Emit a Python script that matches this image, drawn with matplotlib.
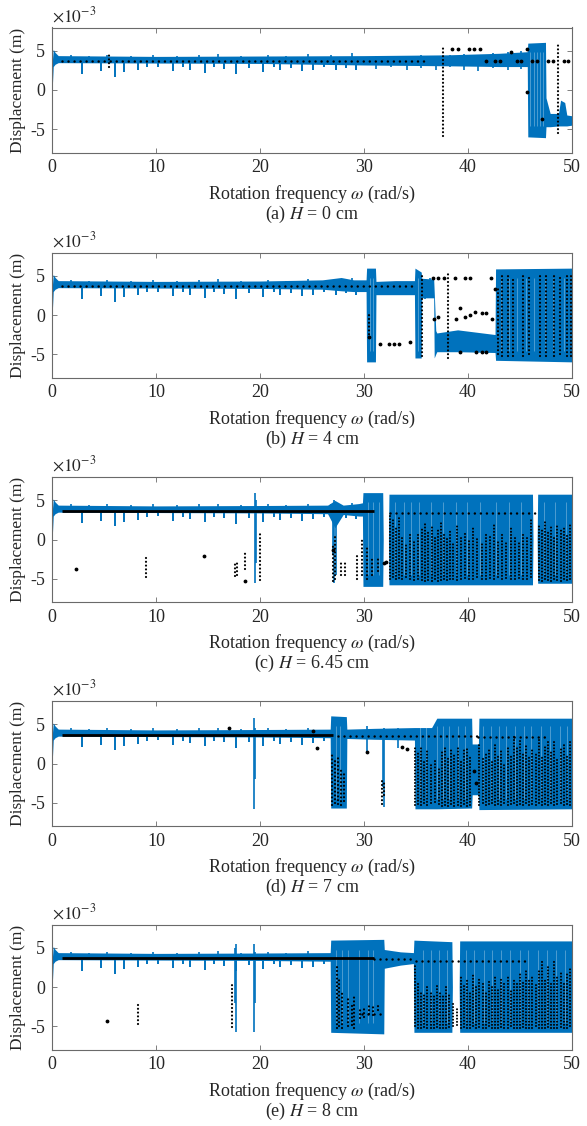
import matplotlib
matplotlib.use("Agg")
import matplotlib.pyplot as plt

plt.rcParams['font.family'] = ['Liberation Serif', 'DejaVu Serif']
plt.rcParams['mathtext.fontset'] = 'stix'
plt.rcParams['axes.unicode_minus'] = False
plt.rcParams['font.size'] = 12.5

BLUE = '#0072BD'
TXT = '#262626'
EDGE = '#6a6a6a'

xticks = [0, 10, 20, 30, 40, 50]
yticks = [-5, 0, 5]
captions = ['(a) $H$ = 0 cm', '(b) $H$ = 4 cm', '(c) $H$ = 6.45 cm',
            '(d) $H$ = 7 cm', '(e) $H$ = 8 cm']

## dips of the periodic branch (same for all H), displacement in 1e-3 m
dip_w = [2.9, 4.7, 6.1, 6.9, 8.3, 9.1, 10.2, 11.6, 12.6, 13.3, 14.7, 15.6, 16.5,
         17.7, 18.9, 20.3, 21.3, 21.9, 23.0, 24.0, 25.1, 26.2, 27.3, 28.3, 29.2]
dip_y = [2.1, 2.4, 1.7, 2.3, 2.5, 2.9, 3.0, 2.4, 2.9, 2.6, 2.2, 2.9, 2.7,
         2.0, 2.8, 2.3, 2.9, 2.5, 2.8, 2.4, 2.6, 2.9, 2.5, 2.8, 2.6]
## small upward peaks on the periodic branch
peak_w = [1.8, 3.6, 5.3, 7.6, 9.7, 12.0, 14.1, 16.0, 18.2, 20.8, 22.5, 24.6, 26.8, 28.8]
peak_y = [4.5, 4.4, 4.5, 4.4, 4.5, 4.4, 4.5, 4.6, 4.4, 4.5, 4.4, 4.6, 4.5, 4.7]

## ---- (a) H = 0 cm
a_env_w  = [0, 0.05, 0.12, 0.3, 0.6, 10, 20, 30, 38, 43, 45.7, 45.75, 47.45, 47.5, 47.9, 48.7, 48.9, 49.3, 49.5, 50]
a_env_lo = [0, 1.0, 3.0, 3.3, 3.5, 3.45, 3.4, 3.2, 3.1, 3.0, 3.0, -6.0, -6.1, -4.7, -4.7, -4.6, -4.6, -4.6, -4.6, -4.5]
a_env_hi = [0, 4.0, 5.2, 4.8, 4.4, 4.3, 4.35, 4.4, 4.5, 4.7, 4.9, 6.0, 6.1, -1.0, -3.0, -3.0, -1.3, -1.6, -3.2, -3.3]
a_spk_w  = [31.2, 32.6, 34.1, 35.5, 36.9, 38.3, 39.6, 41.0, 42.4, 43.8, 45.1]
a_spk_lo = [2.7, 2.9, 2.6, 2.8, 2.5, 2.9, 2.6, 2.4, 2.8, 2.6, 2.7]
a_spk_hi = [4.3, 4.4, 4.3, 4.5, 4.4, 4.5, 4.6, 4.5, 4.7, 4.8, 5.0]
a_stripes = [46.0, 46.35, 46.65, 46.9, 47.2]
a_hd = []
a_hs = [(1.0, 36.2, 3.7)]
a_col_w  = [5.5, 37.6, 48.7]
a_col_lo = [3.0, -5.9, -5.5]
a_col_hi = [4.5, 5.7, 5.9]
a_pt_w = [38.5, 39.0, 40.05, 40.6, 41.2, 41.7, 42.6, 43.1, 44.15, 44.7, 45.05, 45.7, 45.7, 46.2, 46.6, 47.1, 47.7, 48.2, 49.2, 49.6]
a_pt_y = [5.2, 5.2, 5.2, 5.2, 5.2, 3.7, 3.7, 3.7, 4.8, 3.7, 3.7, 5.2, -0.3, 3.7, 3.7, -3.7, 3.7, 3.7, 3.7, 3.7]

## ---- (b) H = 4 cm
b_env_w  = [0, 0.05, 0.12, 0.3, 0.6, 10, 20, 26, 27.8, 29, 30.2, 30.25, 31.1, 31.15, 33, 34.85, 34.9, 35.5, 35.55, 36.7, 36.75, 36.9, 37.0, 39.0, 42.6, 42.65, 50]
b_env_lo = [0, 1.0, 3.0, 3.3, 3.5, 3.45, 3.4, 3.3, 3.1, 3.0, 3.0, -6.0, -6.0, 2.6, 2.6, 2.6, -5.5, -5.5, 2.2, 2.2, -5.5, -5.0, -4.7, -4.7, -4.8, -5.8, -6.0]
b_env_hi = [0, 4.0, 5.2, 4.8, 4.4, 4.3, 4.35, 4.5, 4.8, 4.5, 4.5, 6.0, 6.0, 4.3, 4.4, 4.4, 6.0, 5.5, 4.7, 4.6, 3.0, -2.0, -2.3, -1.9, -2.5, 5.9, 6.0]
b_spk_w  = [35.9, 36.3]
b_spk_lo = [2.0, 2.3]
b_spk_hi = [4.6, 4.7]
b_stripes = [30.6, 30.9, 35.2, 43.2, 43.9, 44.7, 45.6, 46.3, 47.4, 48.2, 49.2]
b_hd = []
b_hs = [(1.0, 35.0, 3.7)]
b_col_w  = [30.5, 35.6, 38.1, 42.9, 43.3, 43.8, 44.3, 45.3, 45.9, 46.9, 47.5, 48.3, 48.8, 49.5, 49.9]
b_col_lo = [-3.0, -5.3, -5.5, -5.0, -5.3, -5.2, -5.3, -5.3, -5.0, -5.3, -5.2, -5.3, -5.0, -5.3, -5.2]
b_col_hi = [0.0, 5.1, 5.5, 3.5, 5.3, 5.0, 4.8, 5.3, 5.0, 5.3, 5.2, 5.3, 5.0, 5.3, 5.3]
b_pt_w = [31.5, 32.4, 32.9, 33.4, 34.4, 36.6, 37.1, 37.7, 38.75, 39.7, 40.2, 42.2, 36.7, 37.1, 38.8, 39.2,
          39.7, 40.2, 40.7, 41.3, 41.7, 42.3, 39.2, 40.8, 41.3, 41.7, 42.6, 30.5]
b_pt_y = [-3.7, -3.65, -3.65, -3.65, -3.5, 4.8, 4.8, 4.8, 4.8, 4.8, 4.8, 4.8, -0.5, -0.3, -0.5, 0.9,
          -0.3, 0.0, 0.4, 0.2, 0.2, -0.5, -4.7, -4.7, -4.7, -4.7, 3.3, -2.8]

## ---- (c) H = 6.45 cm
c_env_w  = [0, 0.05, 0.12, 0.3, 0.6, 10, 20, 26.5, 27.2, 28, 29.5, 29.85, 29.9, 31.8, 31.85, 32.35, 32.4, 46.2, 46.25, 46.65, 46.7, 50]
c_env_lo = [0, 1.0, 3.0, 3.3, 3.5, 3.45, 3.4, 3.3, 1.5, 3.2, 3.0, 3.0, -6.0, -6.0, 0, 0, -5.8, -5.8, 0, 0, -5.6, -5.6]
c_env_hi = [0, 4.0, 5.2, 4.8, 4.4, 4.3, 4.35, 4.4, 5.0, 4.4, 4.6, 4.7, 6.0, 6.0, 0, 0, 5.8, 5.8, 0, 0, 5.8, 5.8]
c_spk_w  = [19.5, 19.6, 27.0, 27.15, 27.3]
c_spk_lo = [-5.6, -3.0, -2.0, -5.6, -4.5]
c_spk_hi = [5.9, 5.0, 4.5, 5.0, 4.8]
c_stripes = [30.4, 30.9, 31.4, 33.0, 33.8, 34.5, 35.3, 36.4, 37.6, 38.8, 39.9, 41.2, 42.7, 43.9, 45.1, 47.3, 48.4, 49.4]
c_hd = [(1.0, 31.0, 3.7)]
c_hs = [(32.5, 46.5, 3.4)]
c_col_w  = [9.0, 17.6, 17.8, 18.6, 19.96, 27.0, 27.2, 27.8, 28.2, 29.3, 29.8, 30.3, 30.8, 31.3]
c_col_lo = [-4.75, -4.7, -4.5, -3.8, -5.2, -5.3, -5.0, -4.5, -4.5, -5.0, -4.5, -5.0, -4.5, -4.0]
c_col_hi = [-2.3, -2.9, -3.0, -1.5, 1.0, -0.5, 0.5, -3.0, -3.0, -2.0, 0.0, -1.0, -2.5, -2.5]
c_pt_w = [2.34, 14.6, 18.6, 27.0, 31.9, 32.1]
c_pt_y = [-3.8, -2.1, -5.3, -1.3, -3.0, -2.9]
c_cloud_w  = [32.5, 32.8, 33.1, 33.4, 33.7, 34.0, 34.4, 34.8, 35.2, 35.6, 35.9, 36.2, 36.5, 36.8, 37.1, 37.4, 37.7,
              38.0, 38.3, 38.6, 38.9, 39.3, 39.7, 40.1, 40.5, 40.9, 41.3, 41.7, 42.1, 42.5, 42.9, 43.3, 43.7, 44.1,
              44.5, 44.9, 45.3, 45.7, 46.1, 46.8, 47.1, 47.4, 47.7, 48.0, 48.3, 48.6, 48.9, 49.2, 49.5, 49.8]
c_cloud_lo = [-5.0, -4.8, -5.1, -4.9, -5.0, -4.8, -5.0, -5.2, -5.1, -5.2, -5.3, -5.2, -5.3, -5.1, -5.3, -5.2, -5.0,
              -5.2, -5.1, -5.0, -5.2, -5.0, -4.9, -5.1, -5.0, -4.8, -5.0, -5.1, -4.9, -5.0, -4.8, -5.0, -4.9, -5.1,
              -5.0, -4.9, -5.1, -5.0, -4.8, -5.2, -5.3, -5.1, -5.2, -5.3, -5.1, -5.2, -5.3, -5.1, -5.2, -5.0]
c_cloud_hi = [3.0, 2.5, 1.5, 2.8, 0.5, -0.5, 1.0, -0.3, 0.8, 1.5, 2.0, 1.2, 1.8, 0.5, 1.5, 2.2, 1.0,
              0.5, 1.2, -0.5, 1.8, 0.5, 1.0, 0.0, 1.5, 0.3, -0.5, 1.0, 0.5, 2.0, 0.0, 0.8, -0.5, 1.5,
              0.2, -0.3, 1.0, 0.5, 2.5, 2.0, 1.5, 2.2, 1.0, 1.8, 0.5, 2.0, 1.2, 1.5, 0.8, 2.0]

## ---- (d) H = 7 cm
d_env_w  = [0, 0.05, 0.12, 0.3, 0.6, 10, 20, 26.75, 26.8, 28.3, 28.35, 31, 34.85, 34.9, 36.5, 37.0, 40.35, 40.4, 41.0, 41.05, 50]
d_env_lo = [0, 1.0, 3.0, 3.3, 3.5, 3.45, 3.4, 3.3, -5.7, -5.7, 3.2, 3.1, 3.0, -5.8, -5.8, -5.8, -5.7, -4.0, -4.0, -5.9, -5.8]
d_env_hi = [0, 4.0, 5.2, 4.8, 4.4, 4.3, 4.35, 4.4, 6.1, 6.0, 4.4, 4.5, 4.6, 4.6, 4.6, 5.8, 5.8, 2.5, 2.5, 5.8, 5.8]
d_spk_w  = [19.4, 19.5, 31.8, 31.9, 30.3, 33.3]
d_spk_lo = [-5.8, -2.0, -3.0, -5.6, 1.5, 2.0]
d_spk_hi = [5.8, 4.5, 4.0, 4.5, 4.8, 4.6]
d_stripes = [27.3, 27.7, 35.4, 36.0, 37.0, 37.6, 38.2, 39.0, 39.7, 41.4, 42.2, 43.0, 43.7, 44.5, 45.4,
             46.1, 47.0, 47.9, 48.8, 49.5]
d_hd = [(1.0, 27.0, 3.7)]
d_hs = [(27.5, 41.0, 3.55), (41.0, 47.5, 3.35)]
d_col_w  = [26.9, 27.2, 27.5, 27.8, 28.1, 31.7, 31.9]
d_col_lo = [-5.3, -5.0, -5.2, -5.3, -4.8, -5.2, -4.0]
d_col_hi = [1.3, 0.5, 1.0, -0.5, -1.0, -2.0, -2.2]
d_pt_w = [17.0, 25.1, 25.5, 30.3, 33.7, 34.1, 40.6, 40.8]
d_pt_y = [4.6, 4.1, 2.0, 1.5, 2.1, 1.8, -1.0, -2.5]
d_cloud_w  = [34.9, 35.2, 35.5, 35.8, 36.1, 36.4, 36.8, 37.2, 37.5, 37.8, 38.1, 38.4, 38.7, 39.0, 39.3, 39.6,
              39.9, 40.2, 41.1, 41.4, 41.7, 42.0, 42.3, 42.6, 42.9, 43.2, 43.5, 43.8, 44.1, 44.4, 44.7, 45.0,
              45.3, 45.6, 45.9, 46.2, 46.5, 46.8, 47.1, 47.4, 47.7, 48.0, 48.3, 48.6, 48.9, 49.2, 49.5, 49.8]
d_cloud_lo = [-5.3, -5.2, -5.3, -5.0, -5.3, -5.1, -4.9, -5.2, -5.5, -5.3, -5.4, -5.2, -5.5, -5.3, -5.4, -5.2,
              -5.5, -5.3, -5.3, -5.1, -5.3, -5.2, -5.0, -5.3, -5.2, -5.3, -5.1, -5.3, -5.2, -5.0, -5.3, -5.2,
              -5.3, -5.1, -5.3, -5.2, -5.3, -5.0, -5.3, -5.2, -5.3, -5.1, -5.3, -5.2, -5.0, -5.3, -5.2, -5.3]
d_cloud_hi = [2.3, 1.5, 2.0, 0.5, 1.8, 0.0, 0.5, -0.5, 1.5, 2.3, 0.8, 2.0, 1.2, 2.2, 0.5, 1.8,
              2.0, 1.0, 2.5, 0.8, 1.5, 2.0, 0.5, 2.5, 1.0, 1.8, 0.0, 2.2, 1.0, 3.5, 2.0, 3.0,
              1.5, 2.5, 0.8, 2.0, 1.5, 3.0, 1.0, 2.2, 2.8, 1.5, 3.2, 0.8, 2.0, 2.5, 1.0, 3.0]

## ---- (e) H = 8 cm
e_env_w  = [0, 0.05, 0.12, 0.3, 0.6, 10, 20, 26.75, 26.8, 31.9, 31.95, 33.5, 34.75, 34.8, 38.45, 38.5, 39.15, 39.2, 50]
e_env_lo = [0, 1.0, 3.0, 3.3, 3.5, 3.45, 3.4, 3.3, -5.8, -6.0, 2.4, 2.8, 3.0, -5.8, -5.8, 0, 0, -5.8, -5.8]
e_env_hi = [0, 4.0, 5.2, 4.8, 4.4, 4.3, 4.35, 4.4, 6.0, 6.1, 4.8, 4.5, 4.4, 6.0, 5.8, 0, 0, 5.9, 5.9]
e_spk_w  = [17.6, 17.7, 19.4, 19.5]
e_spk_lo = [-2.0, -5.7, -5.8, -2.0]
e_spk_hi = [5.0, 5.5, 5.5, 4.5]
e_stripes = [27.3, 27.9, 28.5, 29.5, 30.4, 30.9, 35.7, 36.4, 37.2, 38.0, 39.8, 40.6, 41.5, 42.3, 43.2,
             44.0, 45.0, 45.8, 46.7, 47.6, 48.5, 49.3]
e_hd = [(1.0, 31.0, 3.7)]
e_hs = [(31.0, 35.0, 3.6), (35.0, 45.5, 3.35), (29.8, 31.7, -3.5)]
e_col_w  = [8.27, 17.3, 27.4, 27.6, 27.9, 28.5, 28.8, 29.0, 29.6, 30.0, 30.5, 30.9, 31.3]
e_col_lo = [-4.7, -5.1, -5.3, -5.0, -5.2, -5.0, -4.8, -5.2, -4.0, -3.8, -3.5, -3.6, -3.0]
e_col_hi = [-2.1, 0.3, 2.8, 1.0, -0.5, -1.5, -2.0, -1.0, -3.0, -2.5, -2.0, -2.5, -2.0]
e_pt_w = [5.3]
e_pt_y = [-4.4]
e_cloud_w  = [34.9, 35.2, 35.5, 35.8, 36.1, 36.4, 36.7, 37.0, 37.3, 37.6, 37.9, 38.2, 38.6, 38.9, 39.3, 39.6,
              39.9, 40.2, 40.5, 40.8, 41.1, 41.4, 41.7, 42.0, 42.3, 42.6, 42.9, 43.2, 43.5, 43.8, 44.1, 44.4,
              44.7, 45.0, 45.3, 45.6, 45.9, 46.2, 46.5, 46.8, 47.1, 47.4, 47.7, 48.0, 48.3, 48.6, 48.9, 49.2,
              49.5, 49.8]
e_cloud_lo = [-5.0, -5.2, -5.3, -5.1, -5.3, -5.2, -5.3, -5.1, -5.3, -5.2, -5.3, -5.1, -5.0, -4.8, -5.3, -5.1,
              -5.3, -5.2, -5.0, -5.3, -5.1, -5.3, -5.2, -5.0, -5.3, -5.2, -5.3, -5.1, -5.3, -5.2, -5.0, -5.3,
              -5.2, -5.3, -5.1, -5.3, -5.2, -5.3, -5.0, -5.3, -5.2, -5.3, -5.1, -5.3, -5.2, -5.3, -5.1, -5.3,
              -5.2, -5.0]
e_cloud_hi = [3.0, 0.5, -0.5, -1.0, 0.0, -0.8, -1.0, 0.5, -0.5, -1.0, 0.2, -0.8, -2.0, -2.5, 1.5, 0.5,
              1.0, -0.5, 1.5, 0.0, 1.2, 0.5, -0.5, 1.0, 0.2, 1.5, -0.3, 1.0, 0.5, 1.5, -0.5, 1.0,
              0.5, 1.8, 0.8, 2.0, 1.0, 1.5, 0.5, 2.0, 3.5, 1.2, 2.5, 0.8, 3.5, 1.5, 2.0, 0.5,
              1.8, 2.5]

panels = [
   dict(env=(a_env_w, a_env_lo, a_env_hi), spk=(a_spk_w, a_spk_lo, a_spk_hi), stripes=a_stripes,
        hd=a_hd, hs=a_hs, col=(a_col_w, a_col_lo, a_col_hi), pts=(a_pt_w, a_pt_y), cloud=None, dips_to=45.5),
   dict(env=(b_env_w, b_env_lo, b_env_hi), spk=(b_spk_w, b_spk_lo, b_spk_hi), stripes=b_stripes,
        hd=b_hd, hs=b_hs, col=(b_col_w, b_col_lo, b_col_hi), pts=(b_pt_w, b_pt_y), cloud=None, dips_to=30),
   dict(env=(c_env_w, c_env_lo, c_env_hi), spk=(c_spk_w, c_spk_lo, c_spk_hi), stripes=c_stripes,
        hd=c_hd, hs=c_hs, col=(c_col_w, c_col_lo, c_col_hi), pts=(c_pt_w, c_pt_y),
        cloud=(c_cloud_w, c_cloud_lo, c_cloud_hi), dips_to=29.8),
   dict(env=(d_env_w, d_env_lo, d_env_hi), spk=(d_spk_w, d_spk_lo, d_spk_hi), stripes=d_stripes,
        hd=d_hd, hs=d_hs, col=(d_col_w, d_col_lo, d_col_hi), pts=(d_pt_w, d_pt_y),
        cloud=(d_cloud_w, d_cloud_lo, d_cloud_hi), dips_to=26.7),
   dict(env=(e_env_w, e_env_lo, e_env_hi), spk=(e_spk_w, e_spk_lo, e_spk_hi), stripes=e_stripes,
        hd=e_hd, hs=e_hs, col=(e_col_w, e_col_lo, e_col_hi), pts=(e_pt_w, e_pt_y),
        cloud=(e_cloud_w, e_cloud_lo, e_cloud_hi), dips_to=26.7),
]

W, H = 587, 1126
ax_left, ax_right = 52, 572
ax_tops = [27.5, 252.5, 477, 701, 924.5]
ax_h = 125


def dotted_cols(ax, w, lo, hi, lw=1.6, gap=1.7):
   lc = ax.vlines(w, lo, hi, colors='k', linewidth=lw, linestyles=[(0, (0.01, gap))], zorder=5)
   lc.set_capstyle('round')


def draw(ax, p, cap):
   ew, elo, ehi = p['env']
   ax.fill_between(ew, elo, ehi, color=BLUE, lw=0, zorder=2)
   dw = [w for w in dip_w if w < p['dips_to']]
   dy = [y for w, y in zip(dip_w, dip_y) if w < p['dips_to']]
   ax.vlines(dw, dy, [4.0] * len(dw), colors=BLUE, linewidth=1.4, zorder=2)
   pkw = [w for w in peak_w if w < p['dips_to']]
   pky = [y for w, y in zip(peak_w, peak_y) if w < p['dips_to']]
   ax.vlines(pkw, [3.8] * len(pkw), pky, colors=BLUE, linewidth=1.2, zorder=2)
   sw, slo, shi = p['spk']
   ax.vlines(sw, slo, shi, colors=BLUE, linewidth=1.2, zorder=2)
   ax.vlines(p['stripes'], -4.6, 4.8, colors='white', linewidth=0.7, alpha=0.3, zorder=3)

   for (w0, w1, y) in p['hd']:
      ax.hlines(y, w0, w1, colors='k', linewidth=2.0, zorder=5)
   for (w0, w1, y) in p['hs']:
      lc = ax.hlines(y, w0, w1, colors='k', linewidth=1.8, linestyles=[(0, (0.01, 2.4))], zorder=5)
      lc.set_capstyle('round')
   cw, clo, chi = p['col']
   dotted_cols(ax, cw, clo, chi)
   if p['cloud'] is not None:
      kw, klo, khi = p['cloud']
      dotted_cols(ax, kw, klo, khi, lw=1.5, gap=1.5)
   pw, py = p['pts']
   ax.plot(pw, py, 'k.', ms=3.5, zorder=5)

   ax.set_xlim(0, 50)
   ax.set_ylim(-8, 8)
   ax.set_xticks(xticks)
   ax.set_yticks(yticks)
   ax.tick_params(direction='in', top=True, right=True, length=3.5, width=0.6,
                  colors=EDGE, labelcolor=TXT, labelsize=13, pad=5)
   for s in ax.spines.values():
      s.set_color(EDGE)
      s.set_linewidth(0.8)
   ax.set_ylabel('Displacement (m)', color=TXT, fontsize=12.5, labelpad=3)
   ax.text(0, 1.015, r'$\times10^{-3}$', transform=ax.transAxes, ha='left', va='bottom',
           color=TXT, fontsize=12.5)
   ax.text(0.5, -0.25, r'Rotation frequency $\omega$ (rad/s)', transform=ax.transAxes,
           ha='center', va='top', color=TXT, fontsize=13)
   ax.text(0.5, -0.41, cap, transform=ax.transAxes, ha='center', va='top', color=TXT, fontsize=13)


fig = plt.figure(figsize=(W / 100, H / 100), dpi=100)
for i, p in enumerate(panels):
   top = ax_tops[i]
   ax = fig.add_axes([ax_left / W, 1 - (top + ax_h) / H, (ax_right - ax_left) / W, ax_h / H])
   draw(ax, p, captions[i])

fig.savefig('out.png', dpi=100)
